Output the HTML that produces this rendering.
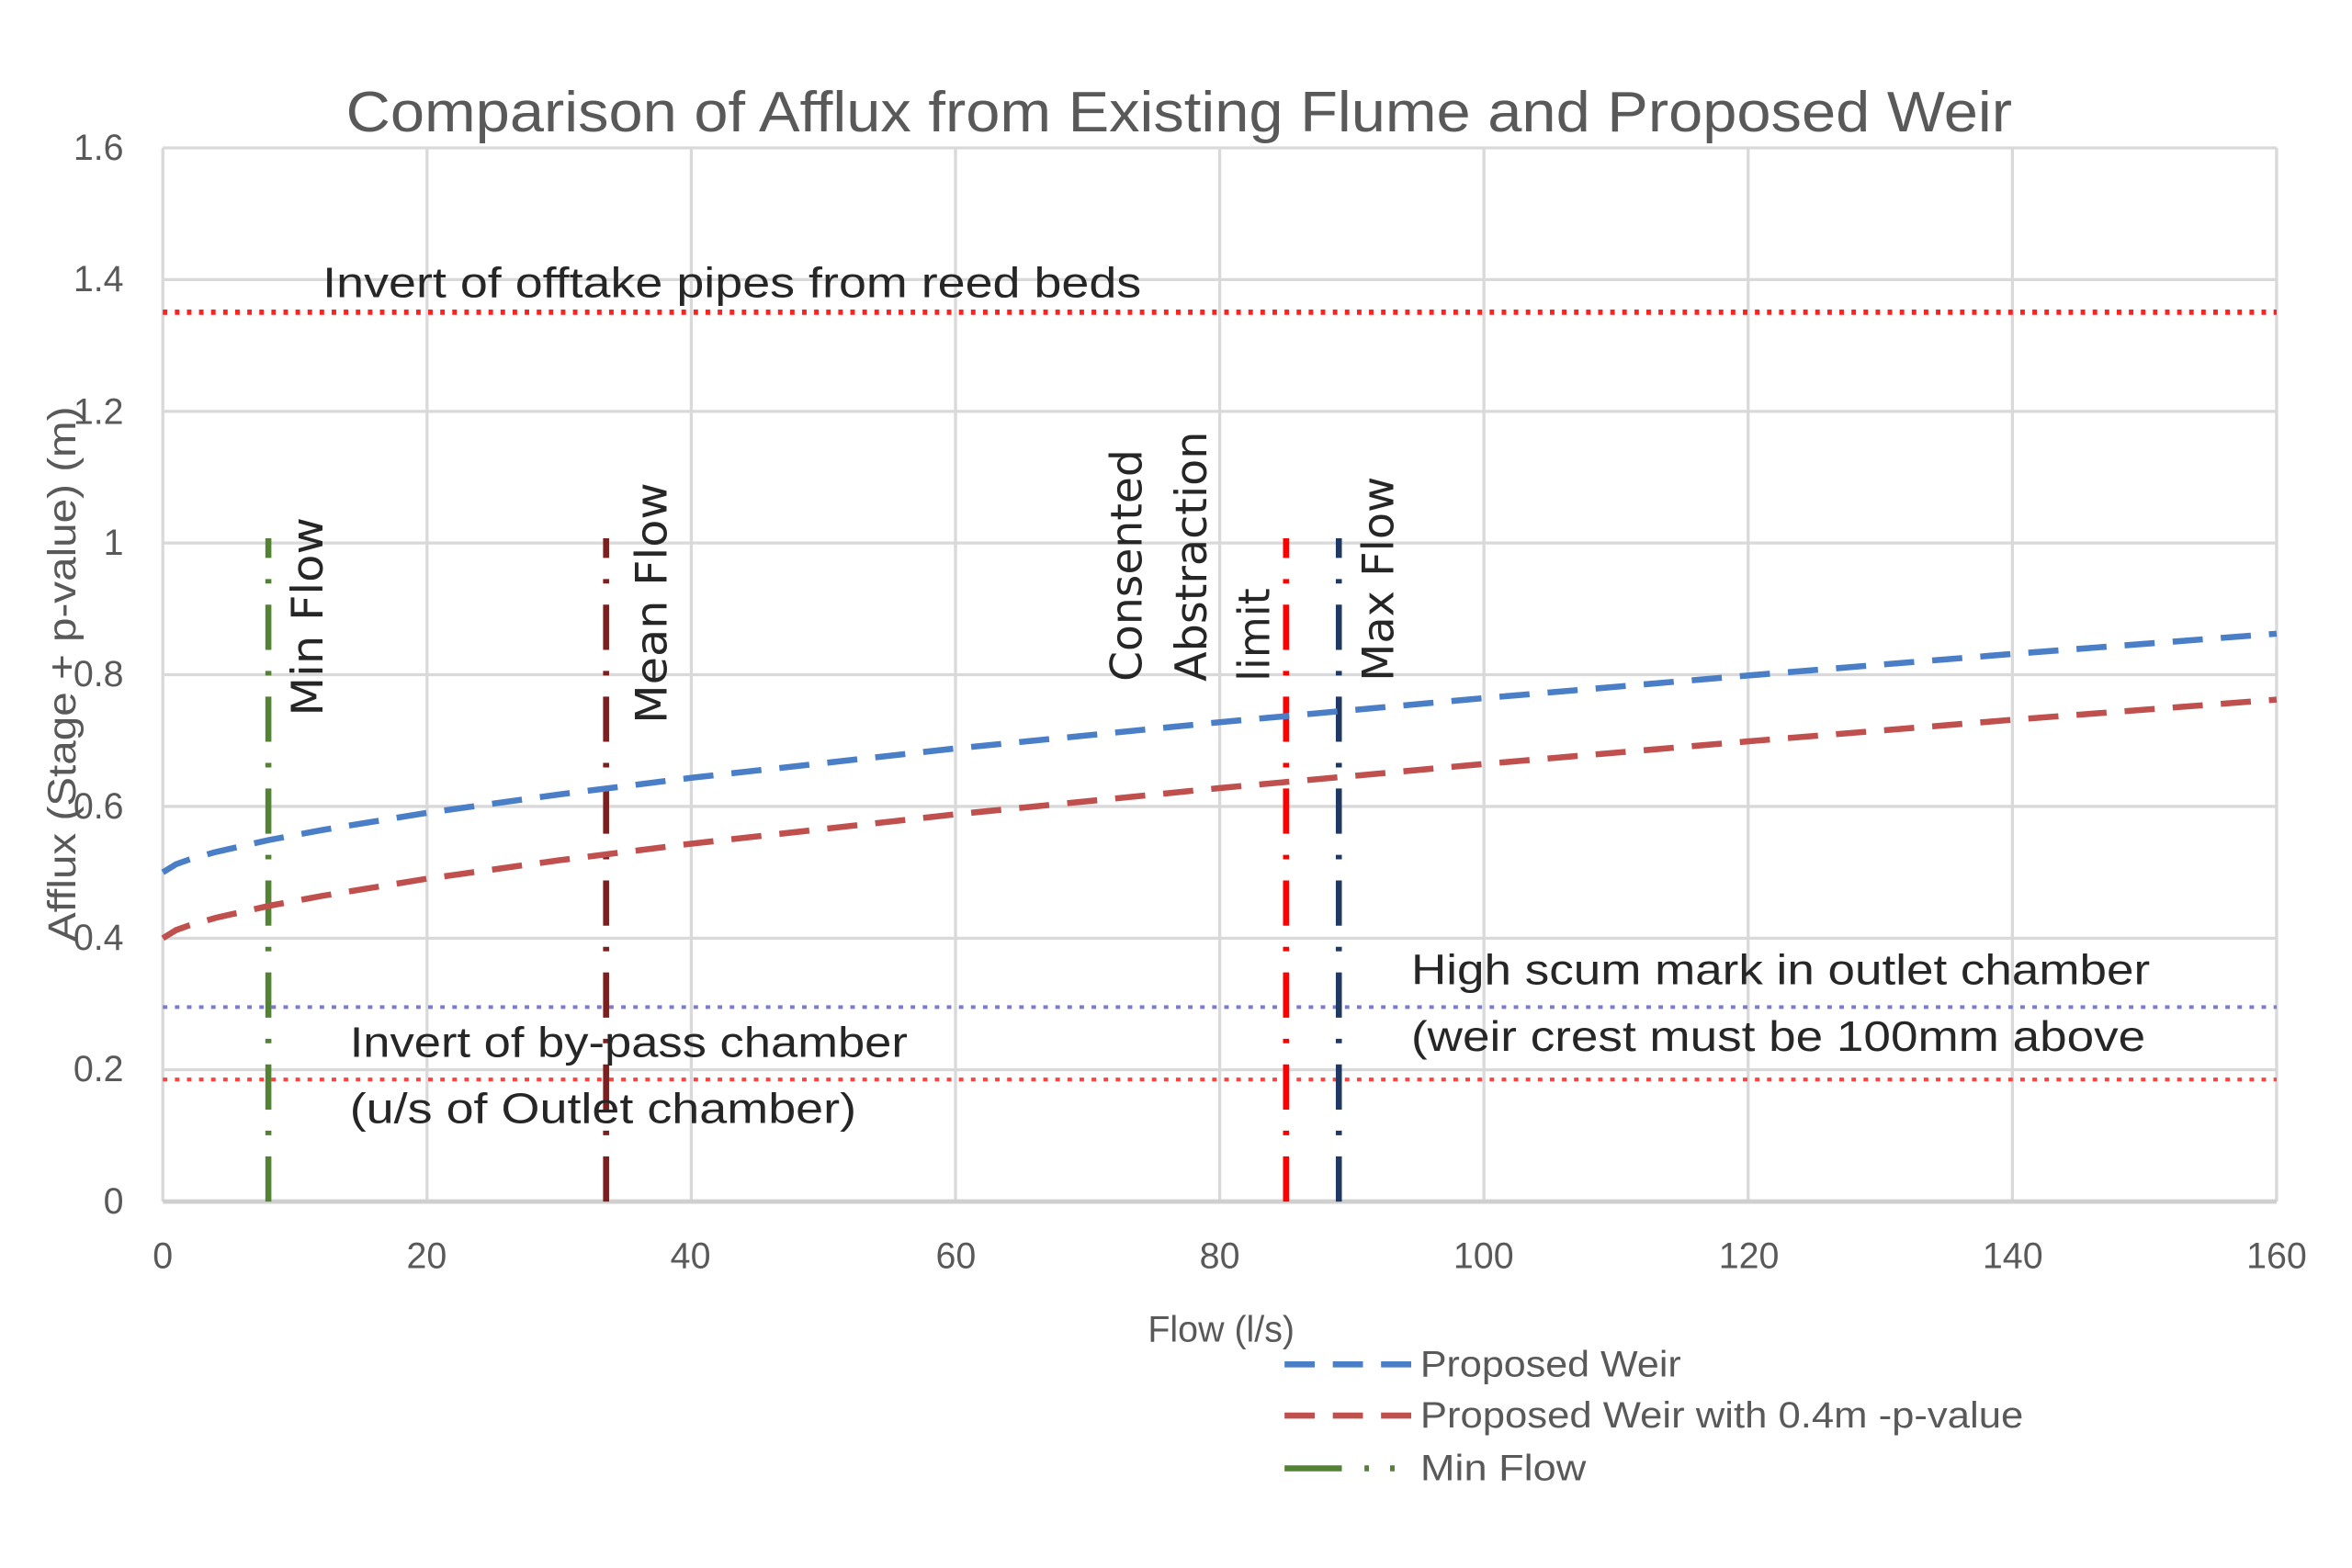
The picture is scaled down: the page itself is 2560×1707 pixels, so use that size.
<!DOCTYPE html>
<html><head><meta charset="utf-8"><style>html,body{margin:0;padding:0;background:#fff}svg{display:block}</style></head>
<body>
<svg width="2560" height="1707" viewBox="0 0 1560 1040" xmlns="http://www.w3.org/2000/svg" font-family="Liberation Sans, sans-serif">
<rect width="1560" height="1040" fill="#fff"/>
<g stroke="#d9d9d9" stroke-width="2">
<line x1="108" y1="98" x2="1510" y2="98"/><line x1="108" y1="185.4" x2="1510" y2="185.4"/><line x1="108" y1="272.8" x2="1510" y2="272.8"/><line x1="108" y1="360.1" x2="1510" y2="360.1"/><line x1="108" y1="447.5" x2="1510" y2="447.5"/><line x1="108" y1="534.9" x2="1510" y2="534.9"/><line x1="108" y1="622.3" x2="1510" y2="622.3"/><line x1="108" y1="709.6" x2="1510" y2="709.6"/>
<line x1="108" y1="98" x2="108" y2="797"/><line x1="283.25" y1="98" x2="283.25" y2="797"/><line x1="458.5" y1="98" x2="458.5" y2="797"/><line x1="633.75" y1="98" x2="633.75" y2="797"/><line x1="809" y1="98" x2="809" y2="797"/><line x1="984.25" y1="98" x2="984.25" y2="797"/><line x1="1159.5" y1="98" x2="1159.5" y2="797"/><line x1="1334.75" y1="98" x2="1334.75" y2="797"/><line x1="1510" y1="98" x2="1510" y2="797"/>
</g>
<line x1="108" y1="797" x2="1510" y2="797" stroke="#cfcfcf" stroke-width="3"/>
<text x="782" y="87" font-size="38" fill="#595959" text-anchor="middle" textLength="1105" lengthAdjust="spacingAndGlyphs">Comparison of Afflux from Existing Flume and Proposed Weir</text>
<g font-size="24" fill="#595959" text-anchor="end">
<text x="82" y="106">1.6</text><text x="82" y="193">1.4</text><text x="82" y="281">1.2</text><text x="82" y="368">1</text><text x="82" y="455">0.8</text><text x="82" y="543">0.6</text><text x="82" y="630">0.4</text><text x="82" y="717">0.2</text><text x="82" y="805">0</text>
</g>
<g font-size="24" fill="#595959" text-anchor="middle">
<text x="108" y="841">0</text><text x="283" y="841">20</text><text x="458" y="841">40</text><text x="634" y="841">60</text><text x="809" y="841">80</text><text x="984" y="841">100</text><text x="1160" y="841">120</text><text x="1335" y="841">140</text><text x="1510" y="841">160</text>
<text x="810" y="890">Flow (l/s)</text>
</g>
<text transform="translate(50,447) rotate(-90)" font-size="26" fill="#595959" text-anchor="middle" textLength="355" lengthAdjust="spacingAndGlyphs">Afflux (Stage + p-value) (m)</text>
<g stroke-width="3.5" fill="none" stroke-dasharray="3 5">
<line x1="108" y1="207" x2="1510" y2="207" stroke="#ff2020"/>
<line x1="108" y1="716" x2="1510" y2="716" stroke="#ff4040" stroke-width="2.5"/>
<line x1="108" y1="668" x2="1510" y2="668" stroke="#7a7ad0" stroke-width="2.5"/>
</g>
<g fill="none" stroke-width="4" stroke-dasharray="30 14 3 14">
<line x1="178" y1="797" x2="178" y2="357" stroke="#548235"/>
<line x1="402" y1="797" x2="402" y2="357" stroke="#7b1f1f"/>
<line x1="853" y1="797" x2="853" y2="357" stroke="#ff0000"/>
<line x1="888" y1="797" x2="888" y2="357" stroke="#1f3864"/>
</g>
<polyline fill="none" stroke="#4a7fc8" stroke-width="4" stroke-dasharray="20 12" points="108,578.6 116.8,573.2 125.5,570.1 143.1,565.1 178.1,557.2 213.2,550.6 283.3,539.1 370.9,526.9 458.5,515.9 633.8,496.4 809,479.0 984.3,463.0 1159.5,448.0 1334.8,433.7 1510,420.3"/>
<polyline fill="none" stroke="#c0504d" stroke-width="4" stroke-dasharray="20 12" transform="translate(0,43.7)" points="108,578.6 116.8,573.2 125.5,570.1 143.1,565.1 178.1,557.2 213.2,550.6 283.3,539.1 370.9,526.9 458.5,515.9 633.8,496.4 809,479.0 984.3,463.0 1159.5,448.0 1334.8,433.7 1510,420.3"/>
<g font-size="28" fill="#262626">
<text x="214" y="197" textLength="543" lengthAdjust="spacingAndGlyphs">Invert of offtake pipes from reed beds</text>
<text x="232" y="701" textLength="370" lengthAdjust="spacingAndGlyphs">Invert of by-pass chamber</text>
<text x="232" y="745" textLength="336" lengthAdjust="spacingAndGlyphs">(u/s of Outlet chamber)</text>
<text x="936" y="653" textLength="490" lengthAdjust="spacingAndGlyphs">High scum mark in outlet chamber</text>
<text x="936" y="697" textLength="487" lengthAdjust="spacingAndGlyphs">(weir crest must be 100mm above</text>
</g>
<g font-family="DejaVu Sans, sans-serif" font-size="29" fill="#262626">
<text transform="translate(214,475) rotate(-90)" textLength="132" lengthAdjust="spacingAndGlyphs">Min Flow</text>
<text transform="translate(442,480) rotate(-90)" textLength="160" lengthAdjust="spacingAndGlyphs">Mean Flow</text>
<text transform="translate(757,452) rotate(-90)" textLength="154" lengthAdjust="spacingAndGlyphs">Consented</text>
<text transform="translate(800,452) rotate(-90)" textLength="166" lengthAdjust="spacingAndGlyphs">Abstraction</text>
<text transform="translate(842,452) rotate(-90)" textLength="62" lengthAdjust="spacingAndGlyphs">limit</text>
<text transform="translate(924,452) rotate(-90)" textLength="136" lengthAdjust="spacingAndGlyphs">Max Flow</text>
</g>
<g stroke-width="4">
<line x1="852" y1="905" x2="937" y2="905" stroke="#4a7fc8" stroke-dasharray="20 12"/>
<line x1="852" y1="939" x2="937" y2="939" stroke="#c0504d" stroke-dasharray="20 12"/>
<line x1="852" y1="974" x2="890" y2="974" stroke="#548235"/>
<line x1="905" y1="974" x2="937" y2="974" stroke="#548235" stroke-dasharray="3 14"/>
</g>
<g font-size="24" fill="#595959">
<text x="942" y="913" textLength="173" lengthAdjust="spacingAndGlyphs">Proposed Weir</text>
<text x="942" y="947" textLength="400" lengthAdjust="spacingAndGlyphs">Proposed Weir with 0.4m -p-value</text>
<text x="942" y="982" textLength="110" lengthAdjust="spacingAndGlyphs">Min Flow</text>
</g>
</svg>
</body></html>
